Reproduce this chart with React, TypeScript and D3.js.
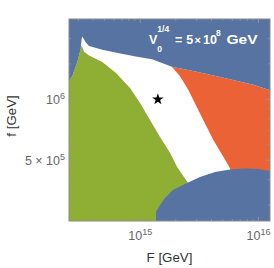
import React from 'react';
import * as d3 from 'd3';

// region boundaries, as [F, f] in GeV
const topBlue: [number, number][] = [
  [2.5e14, 2.5e6], [1.25e16, 2.5e6],
  [1.25e16, 1.11e6], [9.04e15, 1.18e6], [5.38e15, 1.27e6], [3.0e15, 1.37e6],
  [1.85e15, 1.45e6], [1.26e15, 1.58e6], [9.16e14, 1.63e6], [6.62e14, 1.69e6],
  [4.78e14, 1.76e6], [3.69e14, 1.84e6], [3.46e14, 1.92e6], [3.24e14, 2.05e6],
  [3.2e14, 1.99e6], [3.14e14, 1.78e6], [2.94e14, 1.53e6], [2.67e14, 1.31e6],
  [2.5e14, 1.23e6],
];

const green: [number, number][] = [
  [2.5e14, 2.5e5], [2.5e14, 1.23e6], [2.67e14, 1.31e6], [2.94e14, 1.53e6],
  [3.14e14, 1.78e6], [3.2e14, 1.85e6], [3.35e14, 1.72e6], [3.69e14, 1.65e6],
  [4.78e14, 1.53e6], [6.24e14, 1.35e6], [8.2e14, 1.14e6], [9.96e14, 9.6e5],
  [1.21e15, 7.91e5], [1.47e15, 6.51e5], [1.79e15, 5.43e5], [2.05e15, 4.63e5],
  [2.54e15, 3.86e5], [2.54e15, 2.5e5],
];

const orange: [number, number][] = [
  [1.85e15, 1.45e6], [3.0e15, 1.37e6], [5.38e15, 1.27e6], [9.04e15, 1.18e6],
  [1.25e16, 1.11e6], [1.25e16, 4.2e5], [6.0e15, 4.2e5], [5.74e15, 4.56e5],
  [5.04e15, 5.2e5], [4.15e15, 6.29e5], [3.41e15, 7.91e5], [3.0e15, 9.2e5],
  [2.56e15, 1.11e6], [2.17e15, 1.3e6],
];

const bottomBlue: [number, number][] = [
  [1.36e15, 2.5e5], [1.36e15, 2.77e5], [1.47e15, 3.0e5], [1.62e15, 3.25e5],
  [1.89e15, 3.56e5], [2.39e15, 3.81e5], [3.2e15, 4.13e5], [4.29e15, 4.37e5],
  [5.74e15, 4.5e5], [7.69e15, 4.55e5], [9.9e15, 4.52e5], [1.25e16, 4.42e5],
  [1.25e16, 2.5e5],
];

const star: [number, number] = [1.41e15, 1e6];

const xMajor = [1e15, 1e16];
const xMajorExp = ['15', '16'];
const xMinor = [3e14, 4e14, 5e14, 6e14, 7e14, 8e14, 9e14, 2e15, 3e15, 4e15, 5e15, 6e15, 7e15, 8e15, 9e15];
const yMajor = [5e5, 1e6];
const yMajorMant = ['5 × 10', '10'];
const yMajorExp = ['5', '6'];
const yMinor = [3e5, 4e5, 6e5, 7e5, 8e5, 9e5, 1.5e6, 2e6];

const BLUE = '#5673a2';
const GREEN = '#8fae34';
const ORANGE = '#ea6236';
const FONT = '"Liberation Sans", Arial, Helvetica, sans-serif';

const App = () => {
  const width = 274, height = 268;
  const m = { left: 69, right: 270, top: 19, bottom: 221 };

  const x = d3.scaleLog().domain([2.5e14, 1.25e16]).range([m.left, m.right]);
  const y = d3.scaleLog().domain([2.5e5, 2.5e6]).range([m.bottom, m.top]);

  const line = d3.line<[number, number]>()
    .x(d => x(d[0]))
    .y(d => y(d[1]));
  const area = (pts: [number, number][]) => line(pts) + 'Z';

  const starPath = d3.symbol().type(d3.symbolStar).size(42)();

  const tickColor = '#999';

  return (
    <svg width={width} height={height} style={{ position: 'absolute', left: 0, top: 0, display: 'block' }}>
      <defs>
        <clipPath id="frame">
          <rect x={m.left} y={m.top} width={m.right - m.left} height={m.bottom - m.top} />
        </clipPath>
      </defs>
      <rect x={0} y={0} width={width} height={height} fill="white" />
      <g clipPath="url(#frame)">
        <path d={area(green)} fill={GREEN} />
        <path d={area(orange)} fill={ORANGE} />
        <path d={area(topBlue)} fill={BLUE} />
        <path d={area(bottomBlue)} fill={BLUE} />
      </g>

      {/* ticks, inward on all four sides */}
      <g stroke={tickColor} strokeWidth={0.8}>
        {xMajor.map(v => (
          <g key={'xM' + v}>
            <line x1={x(v)} x2={x(v)} y1={m.bottom} y2={m.bottom - 4} />
            <line x1={x(v)} x2={x(v)} y1={m.top} y2={m.top + 4} />
          </g>
        ))}
        {xMinor.map(v => (
          <g key={'xm' + v}>
            <line x1={x(v)} x2={x(v)} y1={m.bottom} y2={m.bottom - 2} />
            <line x1={x(v)} x2={x(v)} y1={m.top} y2={m.top + 2} />
          </g>
        ))}
        {yMajor.map(v => (
          <g key={'yM' + v}>
            <line x1={m.left} x2={m.left + 4} y1={y(v)} y2={y(v)} />
            <line x1={m.right} x2={m.right - 4} y1={y(v)} y2={y(v)} />
          </g>
        ))}
        {yMinor.map(v => (
          <g key={'ym' + v}>
            <line x1={m.left} x2={m.left + 2} y1={y(v)} y2={y(v)} />
            <line x1={m.right} x2={m.right - 2} y1={y(v)} y2={y(v)} />
          </g>
        ))}
      </g>

      <rect x={m.left} y={m.top} width={m.right - m.left} height={m.bottom - m.top}
        fill="none" stroke="#8a8a8a" strokeWidth={1} />

      <path d={starPath ?? ''} transform={`translate(${x(star[0])},${y(star[1])})`} fill="black" />

      {/* tick labels */}
      <g fill="#666" fontFamily={FONT} fontSize={12.5}>
        {xMajor.map((v, i) => (
          <text key={'xl' + v} x={x(v)} y={240} textAnchor="middle">
            10<tspan fontSize={9} dy={-5}>{xMajorExp[i]}</tspan>
          </text>
        ))}
        {yMajor.map((v, i) => (
          <text key={'yl' + v} x={65} y={y(v) + 4.5} textAnchor="end">
            {yMajorMant[i]}<tspan fontSize={9} dy={-5}>{yMajorExp[i]}</tspan>
          </text>
        ))}
      </g>

      {/* axis titles */}
      <text x={(m.left + m.right) / 2} y={262} textAnchor="middle" fontFamily={FONT} fontSize={13.3} fill="#333">
        F [GeV]
      </text>
      <text transform={`translate(15.5,${(m.top + m.bottom) / 2 - 4}) rotate(-90)`} textAnchor="middle"
        fontFamily={FONT} fontSize={13.3} fill="#333">
        f [GeV]
      </text>

      {/* annotation */}
      <g fill="white" fontFamily={FONT} fontWeight="bold">
        <text x={149} y={44} fontSize={12.5}>V</text>
        <text x={157.3} y={31.5} fontSize={8.5}>1/4</text>
        <text x={157.3} y={52} fontSize={8.5}>0</text>
        <text x={175} y={44} fontSize={12.5}>=</text>
        <text x={186.3} y={44} fontSize={12.5}>5</text>
        <text x={194.5} y={44} fontSize={11}>×</text>
        <text x={203} y={44} fontSize={12.5}>10</text>
        <text x={216} y={35.5} fontSize={8.5}>8</text>
        <text x={226.5} y={44} fontSize={12.5} textLength={31} lengthAdjust="spacingAndGlyphs">GeV</text>
      </g>
    </svg>
  );
};

export default App;
